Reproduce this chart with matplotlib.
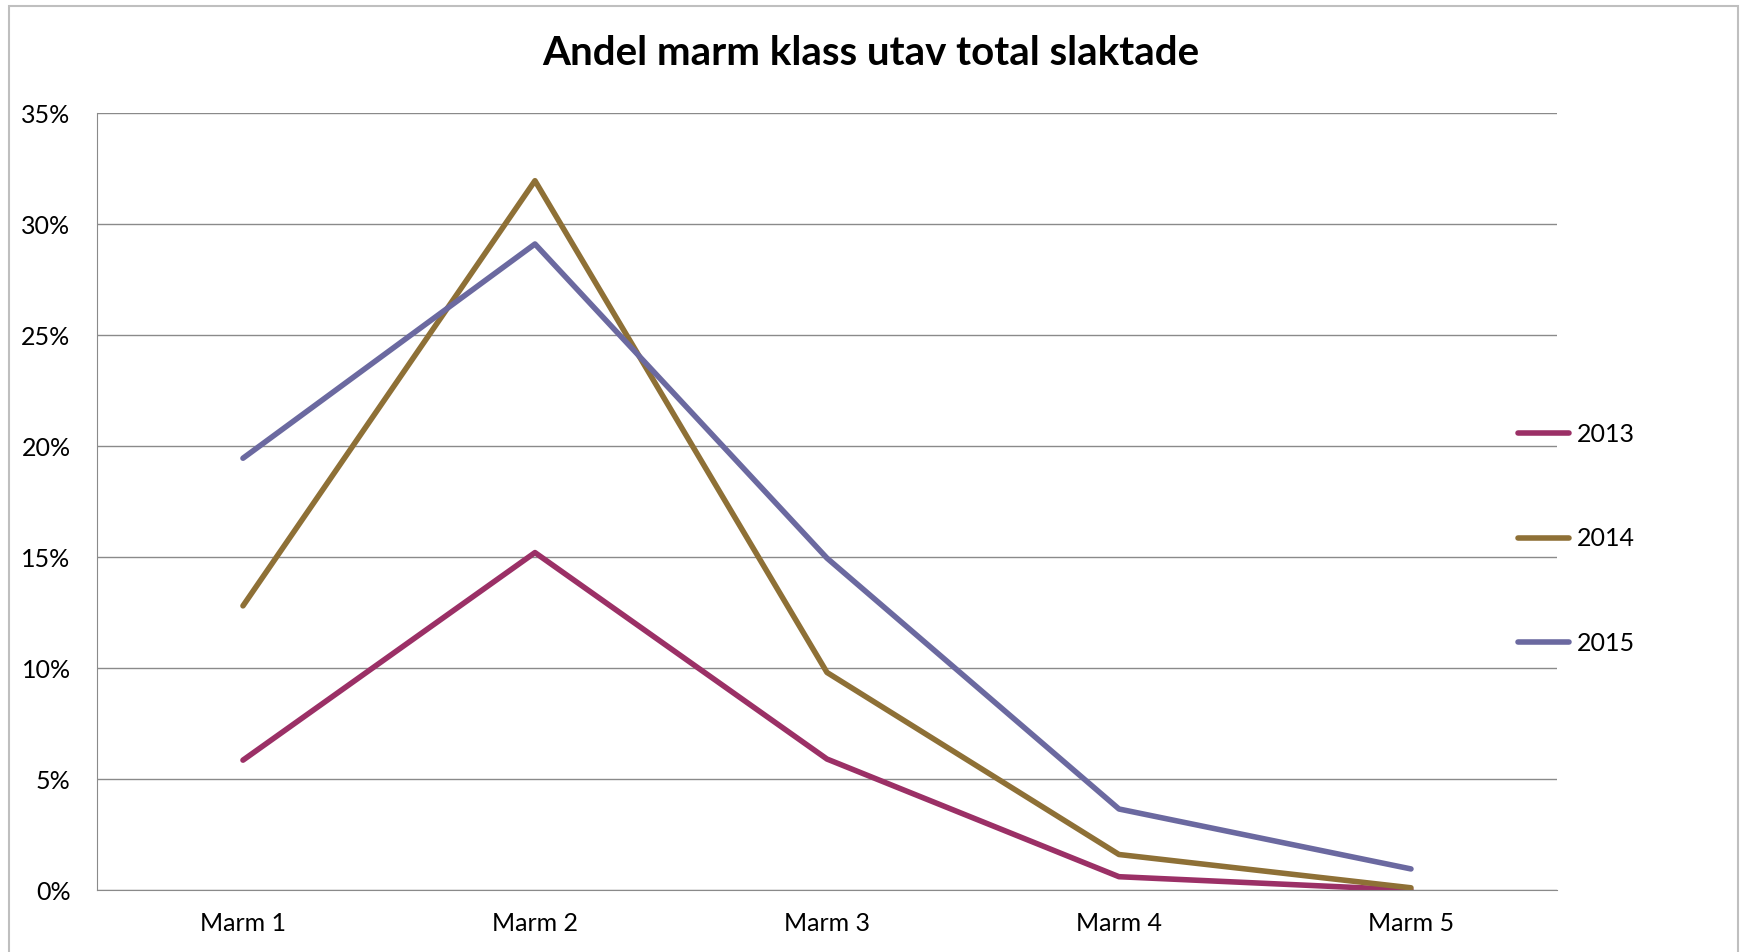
import matplotlib.pyplot as plt
from matplotlib.patches import Rectangle
from matplotlib.ticker import PercentFormatter

plt.rcParams['font.family'] = ['Lato', 'DejaVu Sans']

categories = ["Marm 1", "Marm 2", "Marm 3", "Marm 4", "Marm 5"]
years = ["2013", "2014", "2015"]
share_2013 = [5.85, 15.2, 5.9, 0.6, 0.0]
share_2014 = [12.8, 31.95, 9.8, 1.6, 0.1]
share_2015 = [19.45, 29.1, 14.95, 3.65, 0.95]
colors = ["#9b3066", "#8e7036", "#6b69a0"]

fig = plt.figure(figsize=(17.41, 9.52), dpi=100)
ax = fig.add_axes([0.0557, 0.0651, 0.8386, 0.8162])

x = range(1, len(categories) + 1)
for vals, year, c in zip([share_2013, share_2014, share_2015], years, colors):
    ax.plot(x, vals, color=c, lw=4.0, label=year, solid_capstyle='round')

ax.set_xlim(0.5, 5.5)
ax.set_ylim(0, 35)
ax.set_yticks(range(0, 36, 5))
ax.yaxis.set_major_formatter(PercentFormatter(decimals=0))
ax.set_xticks(list(x))
ax.set_xticklabels(categories)
ax.tick_params(length=0, labelsize=18)
ax.tick_params(axis='y', pad=19)
ax.tick_params(axis='x', pad=16)
ax.grid(axis='y', color='#8a8a8a', lw=1)
ax.set_axisbelow(True)
for side in ['top', 'right']:
    ax.spines[side].set_visible(False)
for side in ['left', 'bottom']:
    ax.spines[side].set_color('#8a8a8a')

fig.text(0.5, 0.944, "Andel marm klass utav total slaktade", fontsize=29, fontweight='bold',
         ha='center', va='center')

leg = ax.legend(loc='center left', bbox_to_anchor=(0.958, 0.452), frameon=False, fontsize=18,
                labelspacing=3.25, handlelength=2.05, handletextpad=0.28)

# outer frame of the chart
fig.patches.append(Rectangle((0.005, -0.05), 0.993, 1.044, transform=fig.transFigure,
                             fill=False, edgecolor='#bfbfbf', lw=1.5))

plt.savefig("out.png", dpi=100)
